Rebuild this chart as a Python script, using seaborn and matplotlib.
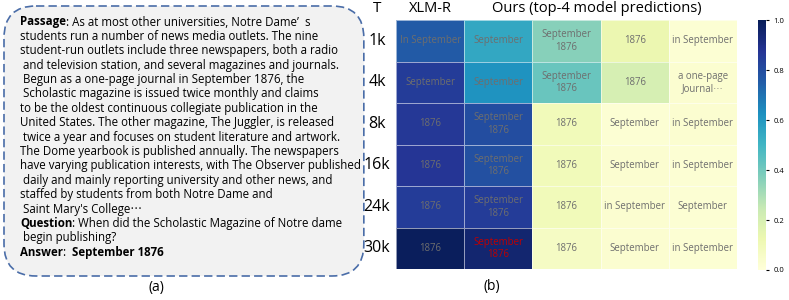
import numpy as np
import seaborn as sb
import matplotlib.pyplot as plt
from matplotlib.patches import FancyBboxPatch

# heatmap data
row_labels = ['1k', '4k', '8k', '16k', '24k', '30k']
scores = [
    [0.76, 0.55, 0.36, 0.13, 0.02],
    [0.85, 0.62, 0.42, 0.20, 0.03],
    [0.86, 0.80, 0.10, 0.02, 0.03],
    [0.87, 0.79, 0.10, 0.03, 0.02],
    [0.85, 0.85, 0.10, 0.03, 0.02],
    [0.99, 0.95, 0.07, 0.03, 0.02],
]
answers = [
    ['In September', 'September', 'September\n1876', '1876', 'in September'],
    ['September', 'September', 'September\n1876', '1876', 'a one-page\nJournal⋯'],
    ['1876', 'September\n1876', '1876', 'September', 'in September'],
    ['1876', 'September\n1876', '1876', 'September', 'in September'],
    ['1876', 'September\n1876', '1876', 'in September', 'September'],
    ['1876', 'September\n1876', '1876', 'September', 'in September'],
]
highlight = (5, 1)  # the cell printed in red

passage = [
    "As at most other universities, Notre Dame’  s",
    "students run a number of news media outlets. The nine",
    "student-run outlets include three newspapers, both a radio",
    " and television station, and several magazines and journals.",
    " Begun as a one-page journal in September 1876, the",
    " Scholastic magazine is issued twice monthly and claims",
    "to be the oldest continuous collegiate publication in the",
    "United States. The other magazine, The Juggler, is released",
    " twice a year and focuses on student literature and artwork.",
    "The Dome yearbook is published annually. The newspapers",
    "have varying publication interests, with The Observer published",
    " daily and mainly reporting university and other news, and",
    "staffed by students from both Notre Dame and",
    " Saint Mary's College⋯",
]
question = ["When did the Scholastic Magazine of Notre dame", " begin publishing?"]
answer = "September 1876"

plt.rcParams['font.family'] = ['Open Sans', 'Noto Sans CJK SC', 'DejaVu Sans']

fig = plt.figure(figsize=(7.89, 3.0), dpi=100)

# ---- (a) passage box ----
ax_a = fig.add_axes([0, 0, 0.47, 1])
ax_a.set_xlim(0, 371)
ax_a.set_ylim(300, 0)
ax_a.axis('off')
box = FancyBboxPatch((4, 6), 360, 270, boxstyle='round,pad=0,rounding_size=32',
                     facecolor='#f2f2f2', edgecolor='#4a6da8', linestyle=(0, (5, 2.5)),
                     linewidth=1.2)
ax_a.add_patch(box)

fs = 8.3
y0 = 22
dy = 14.4


def after(t, s, bold=False):
    # place a string right after another text object
    return ax_a.annotate(s, xy=(1, 0.5), xycoords=t, va='center', ha='left',
                         fontsize=fs, fontweight='bold' if bold else 'normal')


t = ax_a.text(20, y0, 'Passage', fontsize=fs, fontweight='bold', va='center')
after(t, ': ' + passage[0])
for i, line in enumerate(passage[1:], start=1):
    ax_a.text(20, y0 + i * dy, line, fontsize=fs, va='center')
yq = y0 + len(passage) * dy
t = ax_a.text(20, yq, 'Question', fontsize=fs, fontweight='bold', va='center')
after(t, ': ' + question[0])
ax_a.text(20, yq + dy, question[1], fontsize=fs, va='center')
t = ax_a.text(20, yq + 2 * dy, 'Answer', fontsize=fs, fontweight='bold', va='center')
t = after(t, ':  ')
after(t, answer, bold=True)
ax_a.text(157, 287, '(a)', fontsize=10, ha='center', va='center')

# ---- (b) heatmap ----
ax_b = fig.add_axes([0.502, 0.103, 0.432, 0.830])
cax = fig.add_axes([0.961, 0.100, 0.010, 0.833])
sb.heatmap(np.array(scores), annot=np.array(answers), fmt='', cmap='YlGnBu',
           vmin=0, vmax=1, linewidths=0.5, linecolor=(1, 1, 1, 0.55), ax=ax_b,
           cbar_ax=cax, annot_kws={'fontsize': 6.9, 'color': '#6e6e6e'},
           xticklabels=False, yticklabels=False)
for txt in ax_b.texts:
    x, y = txt.get_position()
    if (int(y), int(x)) == highlight:
        txt.set_color('#c00000')
for i, lab in enumerate(row_labels):
    ax_b.text(-0.28, i + 0.5, lab, fontsize=11.5, fontweight='medium',
              ha='center', va='center')
ax_b.text(-0.28, -0.28, 'T', fontsize=11, fontweight='medium', ha='center', va='center')
ax_b.text(0.5, -0.28, 'XLM-R', fontsize=10.5, fontweight='medium', ha='center', va='center')
ax_b.text(2.95, -0.28, 'Ours (top-4 model predictions)', fontsize=10.5,
          fontweight='medium', ha='center', va='center')
ax_b.text(1.4, 6.42, '(b)', fontsize=10, ha='center', va='center')

cax.tick_params(labelsize=5.5, length=2)
cax.set_yticks([0, 0.2, 0.4, 0.6, 0.8, 1.0])
cax.set_yticklabels(['0.0', '0.2', '0.4', '0.6', '0.8', '1.0'])
for s in cax.spines.values():
    s.set_visible(False)

fig.savefig('out.png', dpi=100)
